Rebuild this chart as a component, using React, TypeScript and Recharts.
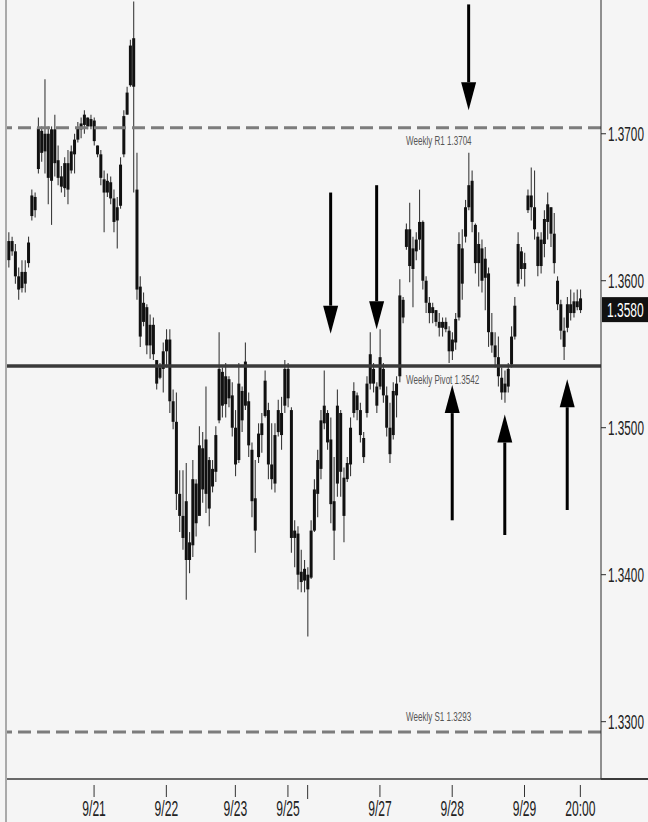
import React from 'react';
import { ComposedChart, Bar, XAxis, YAxis, ReferenceLine } from 'recharts';

// EUR/USD style price bars, values in pips (1/10000)
const highPips = [
  13633, 13630, 13625, 13609, 13614, 13614, 13630, 13662, 13660, 13711,
  13705, 13737, 13705, 13705, 13713, 13692, 13678, 13684, 13689, 13692,
  13700, 13708, 13711, 13716, 13711, 13713, 13711, 13692, 13689, 13675,
  13673, 13671, 13662, 13657, 13684, 13716, 13732, 13764, 13790, 13687,
  13603, 13592, 13584, 13577, 13575, 13546, 13544, 13558, 13567, 13567,
  13526, 13524, 13471, 13471, 13476, 13429, 13478, 13465, 13501, 13497,
  13528, 13480, 13478, 13501, 13565, 13541, 13544, 13535, 13531, 13512,
  13544, 13528, 13558, 13524, 13490, 13478, 13503, 13510, 13539, 13517,
  13503, 13503, 13519, 13521, 13546, 13544, 13514, 13437, 13433, 13417,
  13410, 13405, 13437, 13465, 13485, 13512, 13539, 13512, 13507, 13480,
  13526, 13512, 13473, 13480, 13507, 13531, 13524, 13517, 13497, 13535,
  13565, 13544, 13531, 13567, 13544, 13528, 13517, 13531, 13535, 13601,
  13589, 13639, 13653, 13630, 13633, 13662, 13641, 13603, 13589, 13585,
  13580, 13578, 13575, 13575, 13569, 13565, 13578, 13633, 13635, 13655,
  13687, 13675, 13639, 13633, 13628, 13623, 13609, 13578, 13565, 13562,
  13541, 13539, 13544, 13569, 13589, 13633, 13623, 13619, 13662, 13677,
  13675, 13633, 13633, 13648, 13660, 13650, 13646, 13603, 13587, 13575,
  13589, 13594, 13592, 13594, 13594,
];

const lowPips = [
  13609, 13617, 13598, 13587, 13592, 13592, 13609, 13641, 13643, 13673,
  13681, 13673, 13652, 13638, 13671, 13665, 13660, 13657, 13652, 13673,
  13673, 13694, 13697, 13700, 13703, 13703, 13692, 13684, 13665, 13633,
  13657, 13652, 13633, 13622, 13649, 13684, 13713, 13732, 13660, 13587,
  13555, 13569, 13550, 13547, 13546, 13526, 13533, 13524, 13541, 13510,
  13499, 13444, 13429, 13417, 13383, 13401, 13412, 13426, 13442, 13449,
  13442, 13433, 13456, 13463, 13503, 13507, 13507, 13514, 13494, 13467,
  13476, 13497, 13512, 13480, 13439, 13415, 13476, 13483, 13507, 13465,
  13458, 13456, 13494, 13485, 13510, 13514, 13415, 13405, 13390, 13388,
  13388, 13358, 13397, 13429, 13439, 13465, 13499, 13485, 13435, 13410,
  13453, 13453, 13422, 13463, 13467, 13507, 13505, 13490, 13476, 13507,
  13526, 13524, 13510, 13526, 13517, 13494, 13476, 13492, 13507, 13531,
  13571, 13621, 13599, 13582, 13614, 13621, 13594, 13578, 13571, 13571,
  13569, 13562, 13562, 13565, 13544, 13546, 13553, 13573, 13587, 13626,
  13648, 13633, 13605, 13596, 13592, 13580, 13555, 13551, 13541, 13528,
  13519, 13517, 13524, 13541, 13560, 13596, 13601, 13596, 13646, 13641,
  13628, 13603, 13605, 13616, 13628, 13623, 13605, 13580, 13560, 13546,
  13565, 13573, 13575, 13580, 13578,
];

const openPips = [
  13614, 13627, 13620, 13603, 13595, 13606, 13612, 13644, 13657, 13676,
  13702, 13688, 13700, 13668, 13703, 13682, 13671, 13663, 13680, 13675,
  13686, 13696, 13703, 13706, 13711, 13705, 13709, 13692, 13686, 13669,
  13660, 13667, 13656, 13641, 13651, 13686, 13713, 13733, 13765, 13662,
  13596, 13572, 13582, 13556, 13570, 13546, 13534, 13540, 13552, 13560,
  13518, 13504, 13455, 13440, 13450, 13410, 13420, 13462, 13440, 13486,
  13455, 13478, 13460, 13470, 13505, 13538, 13516, 13533, 13522, 13500,
  13478, 13525, 13515, 13518, 13485, 13452, 13480, 13495, 13508, 13512,
  13475, 13462, 13497, 13510, 13515, 13540, 13512, 13425, 13428, 13402,
  13396, 13400, 13398, 13430, 13455, 13472, 13503, 13510, 13492, 13450,
  13462, 13510, 13466, 13465, 13475, 13510, 13522, 13512, 13493, 13510,
  13530, 13540, 13528, 13528, 13540, 13522, 13500, 13495, 13522, 13535,
  13587, 13623, 13635, 13608, 13620, 13628, 13640, 13600, 13585, 13578,
  13580, 13572, 13568, 13572, 13566, 13552, 13558, 13575, 13622, 13630,
  13650, 13668, 13638, 13612, 13622, 13602, 13605, 13565, 13556, 13548,
  13534, 13524, 13528, 13543, 13562, 13598, 13620, 13608, 13648, 13658,
  13650, 13630, 13610, 13625, 13640, 13650, 13632, 13600, 13584, 13566,
  13568, 13584, 13578, 13586, 13588,
];

const closePips = [
  13627, 13620, 13603, 13594, 13606, 13598, 13626, 13658, 13648, 13704,
  13687, 13700, 13670, 13703, 13680, 13670, 13664, 13680, 13662, 13688,
  13696, 13704, 13707, 13713, 13705, 13710, 13695, 13686, 13670, 13660,
  13668, 13656, 13640, 13650, 13679, 13712, 13728, 13760, 13732, 13594,
  13562, 13585, 13556, 13570, 13550, 13530, 13541, 13552, 13560, 13518,
  13504, 13455, 13440, 13425, 13410, 13422, 13465, 13435, 13488, 13458,
  13492, 13445, 13472, 13495, 13540, 13515, 13535, 13520, 13500, 13475,
  13530, 13505, 13545, 13488, 13450, 13430, 13496, 13503, 13532, 13475,
  13465, 13495, 13512, 13495, 13540, 13520, 13425, 13430, 13400, 13395,
  13404, 13390, 13430, 13458, 13478, 13505, 13515, 13490, 13448, 13430,
  13515, 13470, 13440, 13476, 13500, 13525, 13512, 13495, 13480, 13530,
  13550, 13530, 13515, 13548, 13522, 13500, 13482, 13525, 13530, 13590,
  13575, 13635, 13610, 13622, 13628, 13640, 13600, 13585, 13578, 13582,
  13572, 13568, 13572, 13567, 13552, 13560, 13574, 13625, 13598, 13650,
  13665, 13640, 13612, 13625, 13600, 13615, 13565, 13556, 13548, 13535,
  13524, 13530, 13540, 13562, 13583, 13625, 13608, 13612, 13658, 13650,
  13635, 13610, 13628, 13642, 13652, 13632, 13612, 13584, 13566, 13555,
  13584, 13578, 13586, 13582, 13580,
];

const PIP = 10000;

// x axis: bar index of each date tick and its label
const tickBars = [26, 48, 69, 85, 91, 113, 135, 157, 174];
const tickLabels = ['9/21', '9/22', '9/23', '9/25', '', '9/27', '9/28', '9/29', '20:00'];

const priceTicks = [1.33, 1.34, 1.35, 1.36, 1.37];
const priceDomain = [1.3261, 1.3791];

const levelNames = ['Weekly R1', 'Weekly Pivot', 'Weekly S1'];
const levelValues = [1.3704, 1.3542, 1.3293];

const lastPrice = 1.358;

// annotation arrows: bar index, tail price, tip price
const arrowBars = [98, 112, 140, 135, 151, 170];
const arrowFrom = [1.366, 1.3665, 1.3788, 1.3437, 1.3427, 1.3444];
const arrowTo = [1.3564, 1.3567, 1.3716, 1.3529, 1.3509, 1.3533];

const FONT = "'Liberation Sans', Arial, sans-serif";

const data = highPips.map((h, i) => {
  const high = h / PIP;
  const low = lowPips[i] / PIP;
  return {
    i,
    high,
    low,
    open: openPips[i] / PIP,
    close: closePips[i] / PIP,
    range: [low, high],
  };
});

// condensed text: the source chart uses a very narrow face
const NarrowText = ({ x, y, sx, size, fill, anchor, children }: any) => (
  <text
    transform={`translate(${x},${y}) scale(${sx},1)`}
    fontSize={size}
    fill={fill}
    fontFamily={FONT}
    textAnchor={anchor || 'start'}
  >
    {children}
  </text>
);

const Candle = (props: any) => {
  const { x, y, width, height, payload } = props;
  if (!payload || height == null) return null;
  const top = height >= 0 ? y : y + height;
  const h = Math.abs(height);
  const { high, low, open, close } = payload;
  const span = high - low || 1e-9;
  const cx = x + width / 2;
  const py = (v: number) => top + ((high - v) / span) * h;
  const b1 = py(Math.max(open, close));
  const b2 = py(Math.min(open, close));
  return (
    <g>
      <line x1={cx} x2={cx} y1={top} y2={top + h} stroke="#3c3c3c" strokeWidth={1.1} />
      <rect x={cx - 1.5} y={b1} width={3} height={Math.max(1.5, b2 - b1)} fill="#111" />
    </g>
  );
};

const Arrow = (props: any) => {
  const { x1, y1, x2, y2 } = props;
  if (x1 == null) return null;
  const dir = y2 > y1 ? 1 : -1;
  const headLen = 28;
  const half = 7.5;
  const baseY = y2 - dir * headLen;
  return (
    <g>
      <line x1={x1} y1={y1} x2={x2} y2={baseY} stroke="#000" strokeWidth={3} />
      <polygon points={`${x2 - half},${baseY} ${x2 + half},${baseY} ${x2},${y2}`} fill="#000" />
    </g>
  );
};

const LevelLabel = (props: any) => {
  const { viewBox, text, dy } = props;
  if (!viewBox) return null;
  return (
    <NarrowText x={viewBox.x + 399} y={viewBox.y + dy} sx={0.62} size={13} fill="#555">
      {text}
    </NarrowText>
  );
};

const PriceTag = (props: any) => {
  const { viewBox } = props;
  if (!viewBox) return null;
  const left = viewBox.x + viewBox.width + 1;
  return (
    <g>
      <rect x={left} y={viewBox.y - 13} width={47} height={25} fill="#111" />
      <NarrowText x={left + 5} y={viewBox.y + 7} sx={0.6} size={20} fill="#fff">
        {lastPrice.toFixed(4)}
      </NarrowText>
    </g>
  );
};

const DateTick = (props: any) => {
  const { x, y, payload } = props;
  const k = tickBars.indexOf(payload.value);
  if (k < 0) return <g />;
  const label = tickLabels[k];
  return (
    <g>
      <line x1={x} x2={x} y1={y} y2={y + (label ? 12 : 14)} stroke="#333" strokeWidth={1} />
      {label && (
        <NarrowText x={x} y={y + 31} sx={0.55} size={22} fill="#222" anchor="middle">
          {label}
        </NarrowText>
      )}
    </g>
  );
};

const PriceTick = (props: any) => {
  const { x, y, payload } = props;
  return (
    <NarrowText x={x} y={y + 7} sx={0.56} size={21} fill="#222">
      {Number(payload.value).toFixed(4)}
    </NarrowText>
  );
};

export default function App() {
  const levelDy = [17, 18, -11];
  return (
    <div
      style={{
        position: 'absolute',
        left: 0,
        top: 0,
        width: 648,
        height: 822,
        background: '#f5f5f5',
        fontFamily: FONT,
        overflow: 'hidden',
      }}
    >
      <ComposedChart
        width={648}
        height={822}
        data={data}
        margin={{ top: 0, right: 0, bottom: 0, left: 7 }}
      >
        <XAxis
          dataKey="i"
          type="category"
          interval={0}
          height={43}
          padding={{ left: 0, right: 19 }}
          axisLine={{ stroke: '#3a3a3a', strokeWidth: 1.5 }}
          tickLine={false}
          tickMargin={0}
          tick={<DateTick />}
        />
        <YAxis
          orientation="right"
          width={47}
          domain={priceDomain}
          allowDataOverflow
          ticks={priceTicks}
          axisLine={{ stroke: '#2a2a2a', strokeWidth: 1 }}
          tickLine={{ stroke: '#2a2a2a' }}
          tickSize={5}
          tickMargin={2}
          tick={<PriceTick />}
        />
        {levelValues.map((v, k) => (
          <ReferenceLine
            key={levelNames[k]}
            y={v}
            stroke={k === 1 ? '#3a3a3a' : '#7c7c7c'}
            strokeWidth={k === 1 ? 3.5 : 3}
            strokeDasharray={k === 1 ? undefined : '13 6'}
            label={<LevelLabel text={`${levelNames[k]} ${v.toFixed(4)}`} dy={levelDy[k]} />}
          />
        ))}
        <Bar dataKey="range" shape={<Candle />} isAnimationActive={false} />
        {arrowBars.map((b, k) => (
          <ReferenceLine
            key={`arrow-${k}`}
            segment={[
              { x: b, y: arrowFrom[k] },
              { x: b, y: arrowTo[k] },
            ]}
            shape={<Arrow />}
          />
        ))}
        <ReferenceLine y={lastPrice} stroke="none" label={<PriceTag />} />
      </ComposedChart>
      <div style={{ position: 'absolute', left: 5, top: 0, width: 2, height: 822, background: '#aaa' }} />
      <div style={{ position: 'absolute', left: 601, top: 778, width: 47, height: 1.5, background: '#3a3a3a' }} />
    </div>
  );
}
